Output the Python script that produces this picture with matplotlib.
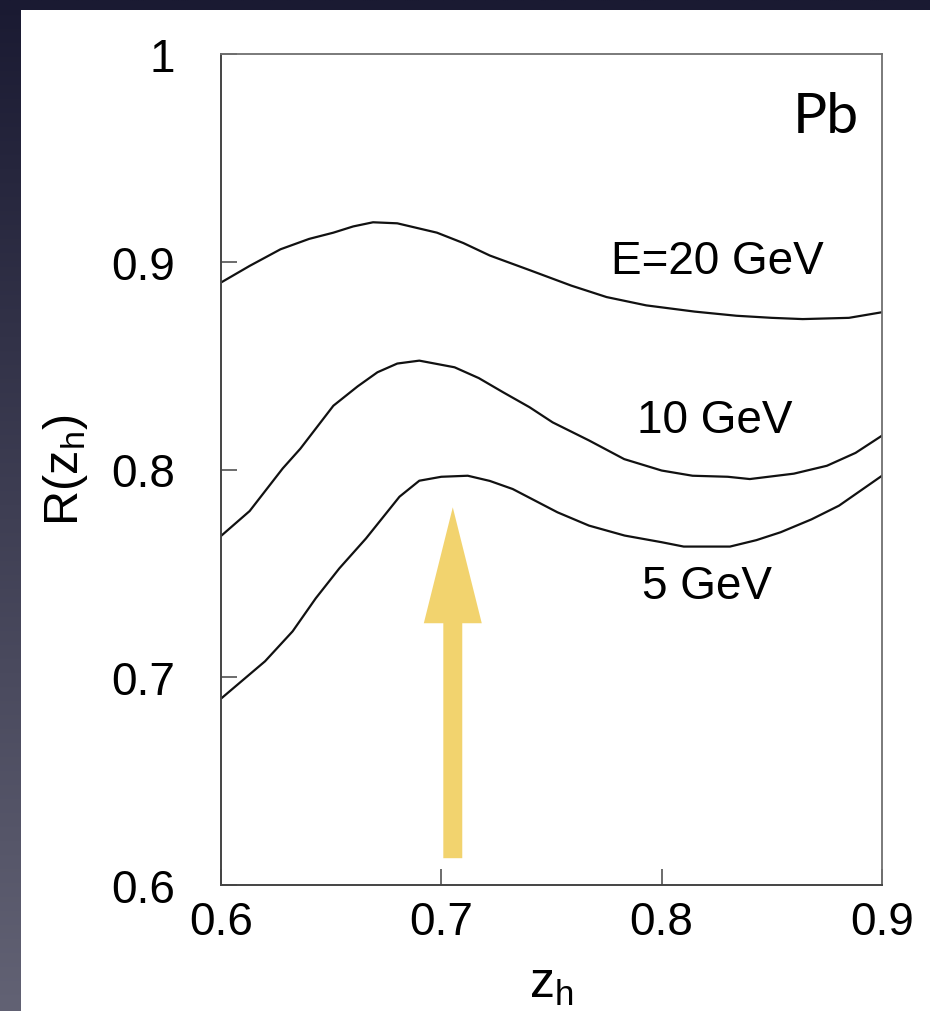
import numpy as np
import matplotlib
matplotlib.use("Agg")
import matplotlib.pyplot as plt
from matplotlib.patches import Rectangle, FancyArrow

plt.rcParams['font.family'] = ['Liberation Sans', 'DejaVu Sans']

# Nuclear modification ratio R(z_h) for Pb at three beam energies
z_20 = [0.600, 0.613, 0.627, 0.640, 0.651, 0.660, 0.669, 0.680, 0.690, 0.698,
        0.710, 0.722, 0.740, 0.759, 0.775, 0.793, 0.815, 0.834, 0.850, 0.864,
        0.885, 0.900]
r_20 = [0.890, 0.898, 0.906, 0.911, 0.914, 0.917, 0.919, 0.9185, 0.916, 0.914,
        0.909, 0.903, 0.896, 0.8885, 0.883, 0.879, 0.876, 0.874, 0.873, 0.8724,
        0.873, 0.8757]

z_10 = [0.600, 0.613, 0.628, 0.636, 0.651, 0.662, 0.671, 0.680, 0.690, 0.706,
        0.717, 0.728, 0.740, 0.7505, 0.767, 0.783, 0.800, 0.814, 0.830, 0.840,
        0.860, 0.875, 0.888, 0.900]
r_10 = [0.768, 0.780, 0.8005, 0.810, 0.8307, 0.840, 0.8468, 0.851, 0.8524, 0.8492,
        0.844, 0.8372, 0.830, 0.8227, 0.814, 0.805, 0.7995, 0.797, 0.7965, 0.7954,
        0.798, 0.8018, 0.808, 0.8163]

z_5 = [0.600, 0.620, 0.6325, 0.643, 0.6537, 0.6658, 0.681, 0.690, 0.700, 0.712,
       0.722, 0.7324, 0.7527, 0.767, 0.7832, 0.800, 0.810, 0.831, 0.843, 0.854,
       0.868, 0.8805, 0.900]
r_5 = [0.6897, 0.7077, 0.7221, 0.738, 0.7524, 0.7668, 0.7869, 0.7946, 0.7965, 0.797,
       0.7945, 0.7906, 0.7794, 0.773, 0.7682, 0.765, 0.7629, 0.7629, 0.766, 0.7698,
       0.776, 0.7826, 0.797]

curve_labels = ["E=20 GeV", "10 GeV", "5 GeV"]
x_ticks = [0.6, 0.7, 0.8, 0.9]
x_tick_labels = ["0.6", "0.7", "0.8", "0.9"]
y_ticks = [0.6, 0.7, 0.8, 0.9, 1.0]
y_tick_labels = ["0.6", "0.7", "0.8", "0.9", "1"]

W, H = 930, 1012
fig = plt.figure(figsize=(W / 100, H / 100), dpi=100)

# slide-style backdrop: dark vertical gradient with a white panel
bg = fig.add_axes([0, 0, 1, 1])
bg.set_xlim(0, W)
bg.set_ylim(H, 0)
bg.axis('off')
top = np.array([26, 26, 50]) / 255
bot = np.array([98, 98, 116]) / 255
t = np.linspace(0, 1, 256)[:, None, None]
grad = top + (bot - top) * t
grad = np.repeat(grad, 4, axis=1)
bg.imshow(grad, extent=(0, W, H, 0), aspect='auto', interpolation='bilinear')
bg.add_patch(Rectangle((21, 11), W - 21, H - 11, facecolor='white', edgecolor='none'))

ax = fig.add_axes([221 / W, 1 - 886 / H, 661 / W, 831 / H])
ax.set_facecolor('white')

for z, r in [(z_20, r_20), (z_10, r_10), (z_5, r_5)]:
    ax.plot(z, r, color='#111111', lw=1.6, solid_joinstyle='round')

ax.set_xlim(0.6, 0.9)
ax.set_ylim(0.6, 1.0)
ax.set_xticks(x_ticks, x_tick_labels)
ax.set_yticks(y_ticks, y_tick_labels)
ax.tick_params(direction='in', length=11.5, width=1.1, color='#444444',
               labelsize=33, top=False, right=False)
ax.tick_params(axis='x', pad=11)
ax.tick_params(axis='y', pad=33)
for side in ['left', 'bottom']:
    ax.spines[side].set_color('#444444')
    ax.spines[side].set_linewidth(1.4)
for side in ['top', 'right']:
    ax.spines[side].set_color('#707070')
    ax.spines[side].set_linewidth(1.3)

ax.set_xlabel(r'$\mathregular{z_h}$', fontsize=36)
ax.xaxis.set_label_coords(0.5, -0.092)
ax.set_ylabel(r'$\mathregular{R(z_h)}$', fontsize=35)
ax.yaxis.set_label_coords(-0.198, 0.5)

ax.text(0.8251, 0.9003, curve_labels[0], fontsize=33, ha='center', va='center')
ax.text(0.8243, 0.8238, curve_labels[1], fontsize=33, ha='center', va='center')
ax.text(0.8206, 0.7439, curve_labels[2], fontsize=33, ha='center', va='center')

ax.text(0.8746, 0.970, 'Pb', fontsize=41, ha='center', va='center',
        family=['Lato', 'DejaVu Sans'])

# highlight arrow pointing at the 5 GeV maximum
ax.add_patch(FancyArrow(0.7052, 0.6129, 0, 0.1689, width=0.0086,
                        head_width=0.0263, head_length=0.0558,
                        length_includes_head=True, color='#F2D36E', lw=0))

fig.savefig('out.png', dpi=100)
